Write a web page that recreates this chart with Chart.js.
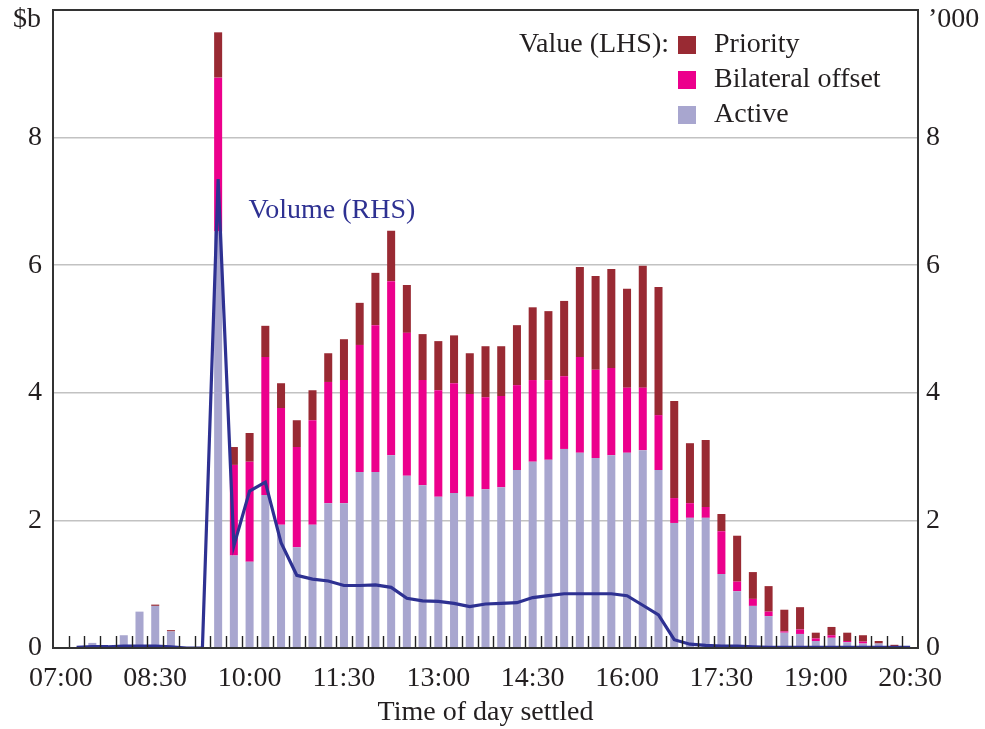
<!DOCTYPE html>
<html>
<head>
<meta charset="utf-8">
<script src="https://cdn.jsdelivr.net/npm/chart.js@4.4.1/dist/chart.umd.min.js"></script>
<style>
  html, body { margin: 0; padding: 0; background: #ffffff; }
  #wrap { width: 985px; height: 729px; position: relative; }
</style>
</head>
<body>
<div id="wrap"><canvas id="c" width="985" height="729"></canvas></div>
<script>
// ---- Data ----
const times = [
  '07:00','07:15','07:30','07:45','08:00','08:15','08:30','08:45','09:00','09:15',
  '09:30','09:45','10:00','10:15','10:30','10:45','11:00','11:15','11:30','11:45',
  '12:00','12:15','12:30','12:45','13:00','13:15','13:30','13:45','14:00','14:15',
  '14:30','14:45','15:00','15:15','15:30','15:45','16:00','16:15','16:30','16:45',
  '17:00','17:15','17:30','17:45','18:00','18:15','18:30','18:45','19:00','19:15',
  '19:30','19:45','20:00','20:15','20:30'
];
const labelledTimes = ['07:00','08:30','10:00','11:30','13:00','14:30','16:00','17:30','19:00','20:30'];

// Value ($b, LHS)
const active = [
  0, 0, 0.08, 0, 0.20, 0.57, 0.66, 0.26, 0, 0,
  6.53, 1.45, 1.35, 2.40, 1.93, 1.58, 1.93, 2.27, 2.27, 2.76,
  2.76, 3.02, 2.70, 2.55, 2.37, 2.43, 2.37, 2.49, 2.52, 2.79,
  2.92, 2.95, 3.12, 3.06, 2.98, 3.02, 3.06, 3.10, 2.79, 1.96,
  2.04, 2.04, 1.16, 0.89, 0.66, 0.50, 0.24, 0.22, 0.11, 0.16,
  0.09, 0.07, 0.07, 0.01, 0
];
const bilateral = [
  0, 0, 0, 0, 0, 0, 0, 0, 0, 0,
  2.41, 1.42, 1.57, 2.16, 1.83, 1.57, 1.64, 1.90, 1.93, 1.99,
  2.30, 2.73, 2.24, 1.65, 1.67, 1.72, 1.61, 1.44, 1.43, 1.33,
  1.28, 1.25, 1.14, 1.50, 1.38, 1.37, 1.02, 0.98, 0.86, 0.39,
  0.23, 0.17, 0.67, 0.15, 0.11, 0.07, 0.02, 0.07, 0.04, 0.04,
  0.02, 0.03, 0, 0, 0
];
const priority = [
  0, 0, 0, 0, 0, 0, 0.02, 0.02, 0, 0,
  0.71, 0.28, 0.45, 0.49, 0.39, 0.42, 0.47, 0.45, 0.64, 0.66,
  0.82, 0.79, 0.75, 0.72, 0.77, 0.75, 0.64, 0.80, 0.78, 0.94,
  1.14, 1.08, 1.18, 1.41, 1.47, 1.55, 1.55, 1.91, 2.01, 1.52,
  0.94, 1.05, 0.27, 0.72, 0.42, 0.40, 0.34, 0.35, 0.09, 0.13,
  0.13, 0.10, 0.04, 0.04, 0
];
// Volume ('000, RHS)
const volume = [
  null, 0.01, 0.02, 0.02, 0.03, 0.03, 0.03, 0.02, 0, 0,
  7.35, 1.60, 2.46, 2.60, 1.65, 1.14, 1.08, 1.05, 0.98, 0.98,
  0.99, 0.95, 0.78, 0.74, 0.73, 0.70, 0.65, 0.69, 0.70, 0.71,
  0.79, 0.82, 0.85, 0.85, 0.85, 0.85, 0.82, 0.67, 0.52, 0.13,
  0.06, 0.04, 0.03, 0.03, 0.02, 0.01, 0.01, 0.01, 0.01, 0.01,
  0.01, 0.01, 0.01, 0.01, 0.01
];
const yTicks = [0, 2, 4, 6, 8];
const leftUnit = '$b';
const rightUnit = '\u2019000';

const C_PRIORITY = '#992a33';
const C_BILATERAL = '#ec008c';
const C_ACTIVE = '#a8a6cf';
const C_VOLUME = '#2e3192';
const TXT = '#231f20';
const FONT = '"Liberation Serif", "Times New Roman", serif';

// ---- plugins ----
const framePlugin = {
  id: 'frame',
  afterDatasetsDraw(chart) {
    const { ctx, chartArea: a, scales } = chart;
    const xs = scales.x;
    ctx.save();
    // inward ticks on bottom axis, at category boundaries
    ctx.strokeStyle = '#222';
    ctx.lineWidth = 1.4;
    for (let i = 1; i < times.length; i++) {
      const px = (xs.getPixelForValue(i - 1) + xs.getPixelForValue(i)) / 2;
      ctx.beginPath();
      ctx.moveTo(Math.round(px) + 0.5, a.bottom);
      ctx.lineTo(Math.round(px) + 0.5, a.bottom - 12);
      ctx.stroke();
    }
    ctx.strokeStyle = '#333';
    ctx.lineWidth = 2;
    ctx.strokeRect(a.left, a.top, a.right - a.left, a.bottom - a.top);
    ctx.restore();
  },
  afterDraw(chart) {
    const { ctx, chartArea: a, scales } = chart;
    ctx.save();
    ctx.font = '28px ' + FONT;
    ctx.textBaseline = 'middle';
    // Units at top of axes
    ctx.fillStyle = TXT;
    ctx.textAlign = 'right';
    ctx.fillText(leftUnit, a.left - 12, a.top + 10);
    ctx.textAlign = 'left';
    ctx.fillText(rightUnit, a.right + 10, a.top + 10);
    // Legend
    const boxX = a.right - 240;
    const rows = [
      ['Priority', C_PRIORITY],
      ['Bilateral offset', C_BILATERAL],
      ['Active', C_ACTIVE]
    ];
    ctx.fillStyle = TXT;
    ctx.textAlign = 'right';
    ctx.fillText('Value (LHS):', boxX - 9, a.top + 35);
    rows.forEach((r, k) => {
      const cy = a.top + 35 + k * 35;
      ctx.fillStyle = r[1];
      ctx.fillRect(boxX, cy - 9, 18, 18);
      ctx.fillStyle = TXT;
      ctx.textAlign = 'left';
      ctx.fillText(r[0], boxX + 36, cy);
    });
    // Volume label
    ctx.fillStyle = C_VOLUME;
    ctx.textAlign = 'left';
    ctx.fillText('Volume (RHS)', scales.x.getPixelForValue(12) - 1, scales.y2.getPixelForValue(6.85));
    ctx.restore();
  }
};

const noPad = (s) => { s.paddingTop = 0; s.paddingBottom = 0; s.paddingLeft = 0; s.paddingRight = 0; };

new Chart(document.getElementById('c'), {
  type: 'bar',
  data: {
    labels: times,
    datasets: [
      { type: 'line', label: 'Volume (RHS)', data: volume, yAxisID: 'y2', order: 0,
        borderColor: C_VOLUME, borderWidth: 3.2, pointRadius: 0, tension: 0, fill: false, spanGaps: false },
      { label: 'Active', data: active, backgroundColor: C_ACTIVE, yAxisID: 'y', stack: 'v', order: 1 },
      { label: 'Bilateral offset', data: bilateral, backgroundColor: C_BILATERAL, yAxisID: 'y', stack: 'v', order: 1 },
      { label: 'Priority', data: priority, backgroundColor: C_PRIORITY, yAxisID: 'y', stack: 'v', order: 1 }
    ]
  },
  options: {
    responsive: false,
    animation: false,
    layout: { padding: { top: 10, left: 0, right: 0, bottom: 0 } },
    datasets: { bar: { barPercentage: 0.51, categoryPercentage: 1.0 } },
    plugins: { legend: { display: false }, tooltip: { enabled: false }, title: { display: false } },
    scales: {
      x: {
        type: 'category',
        offset: true,
        stacked: true,
        grid: { display: false, drawTicks: false },
        border: { display: false },
        ticks: {
          autoSkip: false, maxRotation: 0, minRotation: 0, padding: 14,
          color: TXT, font: { family: FONT, size: 28 },
          callback: function (v, i) { const t = times[i]; return labelledTimes.includes(t) ? t : ''; }
        },
        title: { display: true, text: 'Time of day settled', color: TXT, font: { family: FONT, size: 28 }, padding: { top: 4, bottom: 0 } },
        afterFit(s) { s.height = 81; noPad(s); }
      },
      y: {
        position: 'left', stacked: true, min: 0, max: 10,
        grid: { color: '#c2c2c2', lineWidth: 1.5, drawTicks: false },
        border: { display: false },
        ticks: {
          stepSize: 2, padding: 11, color: TXT, font: { family: FONT, size: 28 },
          callback: (v) => (yTicks.includes(v) ? String(v) : '')
        },
        afterFit(s) { s.width = 53; noPad(s); }
      },
      y2: {
        position: 'right', min: 0, max: 10,
        grid: { display: false, drawTicks: false },
        border: { display: false },
        ticks: {
          stepSize: 2, padding: 8, color: TXT, font: { family: FONT, size: 28 },
          callback: (v) => (yTicks.includes(v) ? String(v) : '')
        },
        afterFit(s) { s.width = 67; noPad(s); }
      }
    }
  },
  plugins: [framePlugin]
});
</script>
</body>
</html>
